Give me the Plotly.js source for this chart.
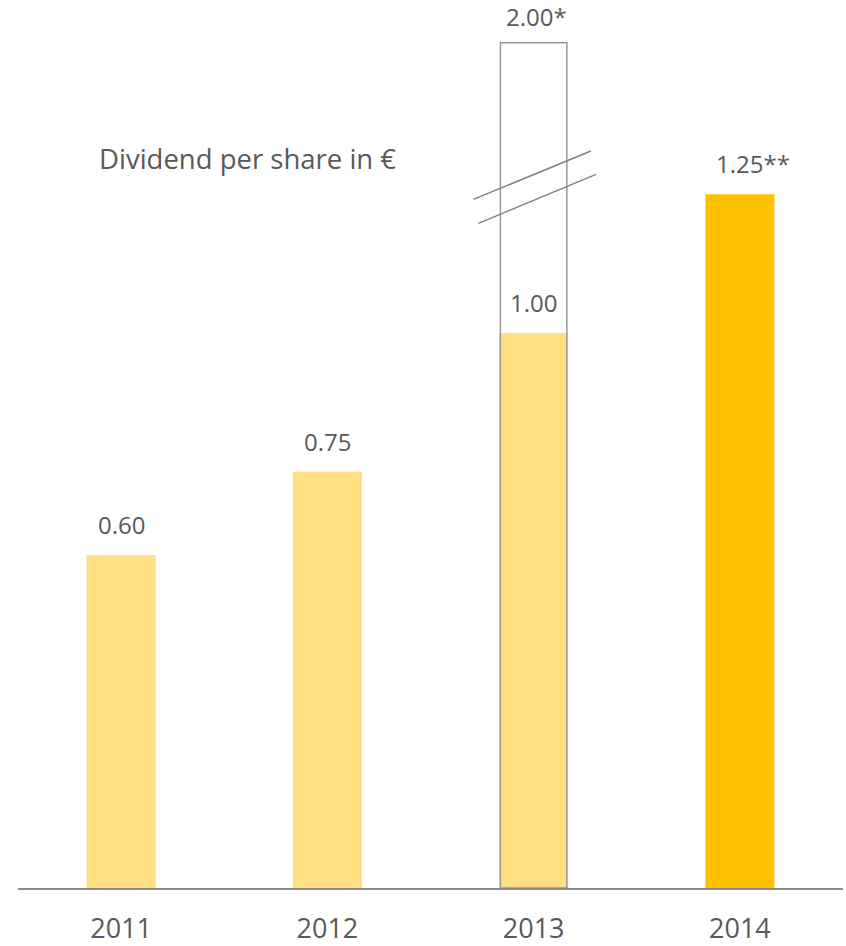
<!DOCTYPE html>
<html>
<head>
<meta charset="utf-8">
<script src="https://cdn.plot.ly/plotly-3.0.1.min.js"></script>
<style>html,body{margin:0;padding:0;background:#fff;}#chart{width:846px;height:946px;}</style>
</head>
<body>
<div id="chart"></div>
<script>
// ---- data ----
const years = ['2011', '2012', '2013', '2014'];
const dividends = [0.60, 0.75, 1.00, 1.25];
const dividendLabels = ['0.60', '0.75', '1.00', '1.25**'];
const proposedYears = ['2013'];
const proposedValues = [2.00];
const proposedLabels = ['2.00*'];
const chartTitle = 'Dividend per share in €';

// ---- styles ----
const light = '#FFDF80', strong = '#FFC000', textGrey = '#595959', lineGrey = '#8c8c8c';
const pos = years.map((y, i) => i);
const posOf = y => years.indexOf(y);
const barColors = years.map((y, i) => i === years.length - 1 ? strong : light);

const traces = [
  {
    type: 'bar', x: pos, y: dividends, width: 0.335,
    marker: {color: barColors, line: {width: 0}},
    hoverinfo: 'y'
  },
  {
    type: 'bar', x: proposedYears.map(posOf), y: proposedValues, yaxis: 'y2', width: 0.322,
    marker: {color: 'rgba(0,0,0,0)', line: {color: '#9a9a9a', width: 1.5}},
    hoverinfo: 'y'
  }
];

const labelFont = {family: 'Open Sans, sans-serif', size: 24, color: textGrey};
const annotations = [];
years.forEach((yr, i) => {
  annotations.push({
    x: pos[i], y: dividends[i], xref: 'x', yref: 'y', text: dividendLabels[i],
    showarrow: false, yanchor: 'bottom', yshift: 12,
    xshift: dividendLabels[i].endsWith('**') ? 13 : 0,
    font: labelFont
  });
});
proposedYears.forEach((yr, i) => {
  annotations.push({
    x: posOf(yr), y: proposedValues[i], xref: 'x', yref: 'y2', text: proposedLabels[i],
    showarrow: false, yanchor: 'bottom', yshift: 9, xshift: 3, borderpad: 0,
    font: labelFont
  });
});
annotations.push({
  x: 0.0958, y: 0.822, xref: 'paper', yref: 'paper', text: chartTitle,
  showarrow: false, xanchor: 'left', yanchor: 'middle',
  font: {family: 'Open Sans, sans-serif', size: 27.5, color: textGrey}
});

// axis break marks on the 2013 bar
const breakIdx = posOf(proposedYears[0]);
const breakLine = {color: '#808080', width: 1.5};
const shapes = [
  {type: 'line', xref: 'x', yref: 'y', x0: breakIdx - 0.292, y0: 1.2408, x1: breakIdx + 0.278, y1: 1.3279, line: breakLine},
  {type: 'line', xref: 'x', yref: 'y', x0: breakIdx - 0.268, y0: 1.1975, x1: breakIdx + 0.3025, y1: 1.2858, line: breakLine}
];

const layout = {
  width: 846, height: 946,
  margin: {l: 18, r: 3, t: 0, b: 58},
  paper_bgcolor: '#ffffff', plot_bgcolor: '#ffffff',
  barmode: 'overlay',
  showlegend: false,
  xaxis: {
    type: 'linear', range: [-0.5, 3.5],
    tickmode: 'array', tickvals: pos, ticktext: years,
    showline: true, linecolor: lineGrey, linewidth: 2,
    showgrid: false, zeroline: false, ticks: '', ticklabelstandoff: 16,
    tickfont: {family: 'Open Sans, sans-serif', size: 27, color: textGrey},
    fixedrange: true
  },
  yaxis: {range: [0, 1.6], visible: false, showgrid: false, zeroline: false, fixedrange: true},
  yaxis2: {range: [0, 2.101], overlaying: 'y', visible: false, showgrid: false, zeroline: false, fixedrange: true},
  annotations: annotations,
  shapes: shapes
};

Plotly.newPlot('chart', traces, layout, {displayModeBar: false, staticPlot: true});
</script>
</body>
</html>
